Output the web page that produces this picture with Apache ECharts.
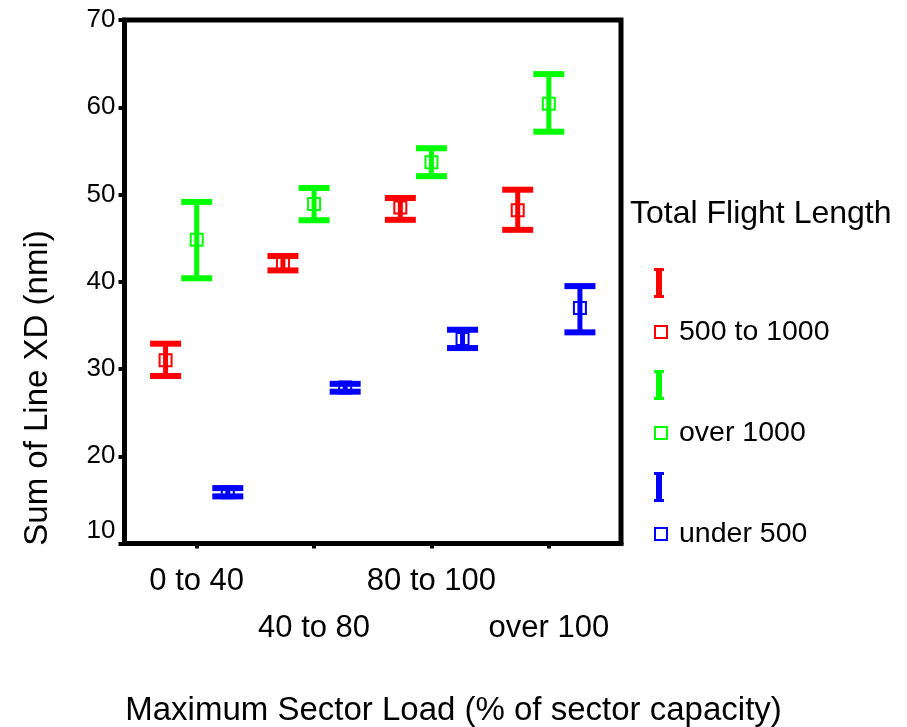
<!DOCTYPE html>
<html>
<head>
<meta charset="utf-8">
<script src="https://cdn.jsdelivr.net/npm/echarts@6/dist/echarts.min.js"></script>
<style>html,body{margin:0;padding:0;background:#fff;}#c{width:907px;height:727px;}</style>
</head>
<body>
<div id="c"></div>
<script>
const categories = ['0 to 40', '40 to 80', '80 to 100', 'over 100'];
const groupNames = ['500 to 1000', 'over 1000', 'under 500'];
const yTicks = [10, 20, 30, 40, 50, 60, 70];

const redMean  = [31.0, 42.1, 48.5, 48.2];
const redLow   = [29.2, 41.3, 47.1, 45.95];
const redHigh  = [32.9, 42.95, 49.6, 50.55];

const greenMean = [44.8, 48.9, 53.7, 60.4];
const greenLow  = [40.4, 47.05, 52.1, 57.2];
const greenHigh = [49.15, 50.75, 55.3, 63.8];

const blueMean = [15.87, 27.87, 33.45, 37.0];
const blueLow  = [15.4, 27.4, 32.4, 34.2];
const blueHigh = [16.35, 28.3, 34.5, 39.5];

const colors = ['#ff0000', '#00ff00', '#0000ff'];
const offsets = [-0.265, 0, 0.265];
const FONT = "'Liberation Sans', Arial, sans-serif";

const means = [redMean, greenMean, blueMean];
const lows = [redLow, greenLow, blueLow];
const highs = [redHigh, greenHigh, blueHigh];

const catIdx = categories.map((c, i) => i);
const rowOne = catIdx.filter(i => i % 2 === 0);
const rowTwo = catIdx.filter(i => i % 2 === 1);

function renderErrorBar(params, api) {
  const x = api.value(0), lo = api.value(1), hi = api.value(2);
  const top = api.coord([x, hi]);
  const bot = api.coord([x, lo]);
  const color = api.visual('color');
  const capW = 31, capH = 6, stemW = 5;
  return {
    type: 'group',
    children: [
      {type: 'rect', shape: {x: top[0] - stemW / 2, y: top[1], width: stemW, height: bot[1] - top[1]}, style: {fill: color}},
      {type: 'rect', shape: {x: top[0] - capW / 2, y: top[1] - capH / 2, width: capW, height: capH}, style: {fill: color}},
      {type: 'rect', shape: {x: bot[0] - capW / 2, y: bot[1] - capH / 2, width: capW, height: capH}, style: {fill: color}}
    ]
  };
}

const series = [];
groupNames.forEach((g, gi) => {
  series.push({
    name: 'bar ' + g,
    type: 'custom',
    renderItem: renderErrorBar,
    itemStyle: {color: colors[gi]},
    encode: {x: 0, y: [1, 2]},
    data: categories.map((c, i) => [i + offsets[gi], lows[gi][i], highs[gi][i]]),
    silent: true,
    z: 2
  });
});
groupNames.forEach((g, gi) => {
  series.push({
    name: g,
    type: 'scatter',
    symbol: 'rect',
    symbolSize: 12,
    itemStyle: {color: 'rgba(0,0,0,0)', borderColor: colors[gi], borderWidth: 2, opacity: 1},
    data: categories.map((c, i) => [i + offsets[gi], means[gi][i]]),
    silent: true,
    z: 3
  });
});

const barIcon = 'path://M0,0 H10 V3 H8 V27 H10 V30 H0 V27 H2 V3 H0 Z';

const labelFmt = function (v) { return categories[Math.round(v)]; };

const option = {
  animation: false,
  backgroundColor: '#fff',
  grid: {
    left: 124.5, top: 20, width: 496.5, height: 523.5,
    show: true, borderColor: '#000', borderWidth: 5, backgroundColor: 'transparent'
  },
  xAxis: [
    {
      type: 'value', position: 'bottom',
      min: -0.615, max: 3.615,
      splitLine: {show: false},
      axisLine: {show: true, onZero: false, lineStyle: {color: '#000', width: 5}},
      axisTick: {show: true, customValues: catIdx, length: 5, lineStyle: {color: '#000', width: 4}},
      axisLabel: {
        customValues: rowOne,
        showMinLabel: true, showMaxLabel: true,
        color: '#000', fontFamily: FONT, fontSize: 31, margin: 22,
        formatter: labelFmt
      }
    },
    {
      type: 'value', position: 'bottom',
      min: -0.615, max: 3.615,
      splitLine: {show: false},
      axisLine: {show: false, onZero: false},
      axisTick: {show: false},
      axisLabel: {
        customValues: rowTwo,
        showMinLabel: true, showMaxLabel: true,
        color: '#000', fontFamily: FONT, fontSize: 31, margin: 69,
        formatter: labelFmt
      }
    }
  ],
  yAxis: {
    type: 'value',
    min: yTicks[0], max: yTicks[yTicks.length - 1], interval: 10,
    splitLine: {show: false},
    axisLine: {show: true, onZero: false, lineStyle: {color: '#000', width: 5}},
    axisTick: {show: true, length: 6, lineStyle: {color: '#000', width: 4}},
    axisLabel: {color: '#000', fontFamily: FONT, fontSize: 26, margin: 9, verticalAlignMinLabel: 'bottom', showMinLabel: true, showMaxLabel: true}
  },
  legend: [
    {
      orient: 'vertical', left: 649, top: 263,
      itemWidth: 10, itemHeight: 30, itemGap: 72,
      selectedMode: false,
      formatter: function () { return ''; },
      textStyle: {fontSize: 28, lineHeight: 30},
      data: groupNames.map((g, gi) => ({name: 'bar ' + g, icon: barIcon, itemStyle: {color: colors[gi], borderWidth: 0}}))
    },
    {
      orient: 'vertical', left: 649, top: 312,
      itemWidth: 12, itemHeight: 12, itemGap: 71,
      selectedMode: false,
      textStyle: {fontSize: 28.5, lineHeight: 30, color: '#000', fontFamily: FONT, padding: [0, 0, 0, 7]},
      data: groupNames.map((g, gi) => ({name: g, icon: 'rect', itemStyle: {color: 'rgba(0,0,0,0)', borderColor: colors[gi], borderWidth: 2}}))
    }
  ],
  graphic: [
    {type: 'text', x: 630, y: 214, style: {text: 'Total Flight Length', font: '32px ' + FONT, fill: '#000', textAlign: 'left', textVerticalAlign: 'middle', align: 'left', verticalAlign: 'middle'}},
    {type: 'text', x: 453.5, y: 711, style: {text: 'Maximum Sector Load (% of sector capacity)', font: '33px ' + FONT, fill: '#000', textAlign: 'center', textVerticalAlign: 'middle', align: 'center', verticalAlign: 'middle'}},
    {type: 'text', x: 38, y: 388, rotation: Math.PI / 2, style: {text: 'Sum of Line XD (nmi)', font: '33px ' + FONT, fill: '#000', textAlign: 'center', textVerticalAlign: 'middle', align: 'center', verticalAlign: 'middle'}}
  ],
  series: series
};

const chart = echarts.init(document.getElementById('c'), null, {renderer: 'canvas'});
chart.setOption(option);
</script>
</body>
</html>
